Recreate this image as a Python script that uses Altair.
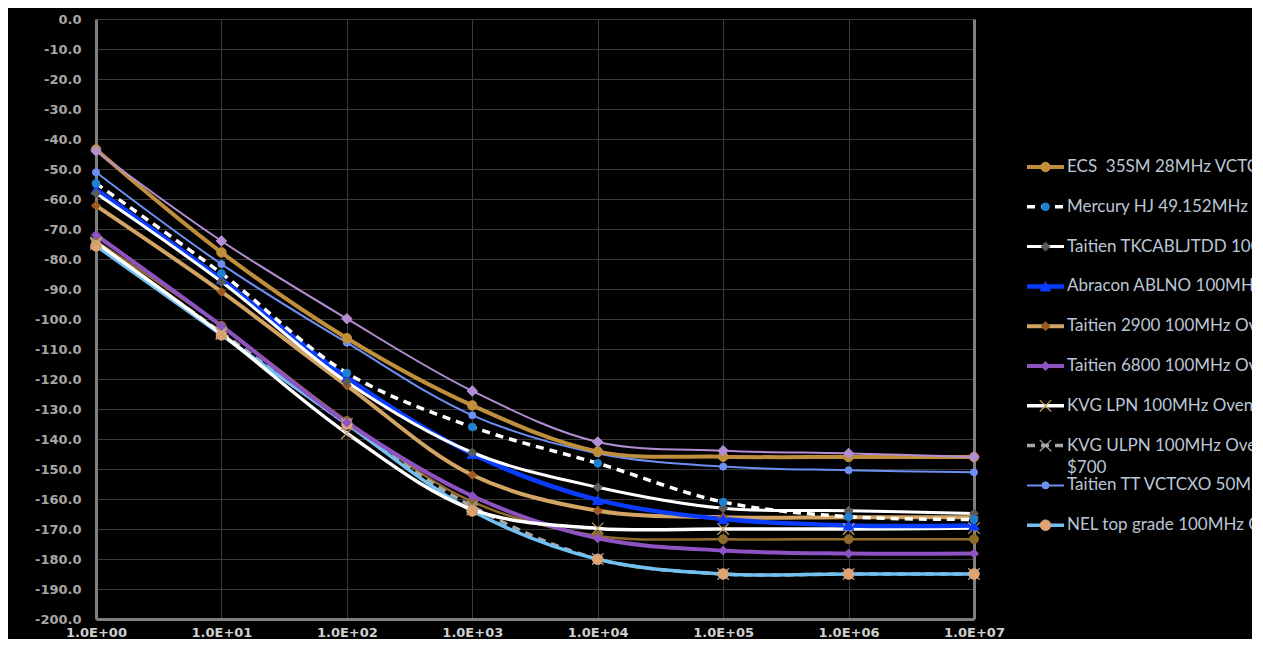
import altair as alt
import pandas as pd

# ---------------- data ----------------
freq = [1, 10, 100, 1e3, 1e4, 1e5, 1e6, 1e7]

ecs = [-43.5, -77.8, -106.4, -128.8, -144.2, -145.9, -146.0, -146.0]
mercury = [-54.8, -84.8, -118.0, -136.0, -148.1, -161.0, -165.9, -166.8]
tkcab = [-58.1, -87.6, -121.0, -144.5, -156.1, -163.1, -163.9, -164.8]
abracon = [-56.8, -86.8, -119.5, -145.0, -160.3, -166.7, -168.8, -168.8]
t2900 = [-62.2, -90.9, -122.2, -152.0, -163.9, -166.1, -166.1, -166.1]
t6800 = [-72.0, -102.3, -134.5, -159.0, -173.1, -177.2, -178.2, -178.2]
kvg_lpn = [-74.5, -105.0, -138.1, -163.5, -169.8, -170.0, -170.0, -169.7]
kvg_ulpn = [-75.0, -104.5, -135.0, -162.5, -180.0, -185.0, -185.0, -185.0]
tt = [-51.1, -81.7, -107.9, -132.1, -144.8, -149.2, -150.4, -151.1]
nel = [-75.6, -105.3, -135.0, -164.0, -180.1, -185.0, -185.0, -185.0]
extra_lav = [-44.0, -74.0, -99.9, -124.0, -141.0, -143.9, -144.8, -146.0]
extra_gold = [-74.0, -102.3, -134.0, -160.9, -172.3, -173.4, -173.4, -173.4]

names = [
    "\u00a0ECS\u00a0 35SM 28MHz VCTCXO",
    "Mercury HJ 49.152MHz XO",
    "Taitien TKCABLJTDD 100MHz",
    "Abracon ABLNO 100MHz XO",
    "Taitien 2900 100MHz Ovenized",
    "Taitien 6800 100MHz Ovenized",
    "KVG LPN 100MHz Ovenized",
    "KVG ULPN 100MHz Ovenized",
    "Taitien TT VCTCXO 50MHz",
    "NEL top grade 100MHz Ovenized",
    "extra_a",
    "extra_b",
]
values = [ecs, mercury, tkcab, abracon, t2900, t6800, kvg_lpn, kvg_ulpn, tt, nel,
          extra_lav, extra_gold]
legend_count = 10
wrap_text = "$700"

X_PATH = "M-1,-1L1,1M-1,1L1,-1"
styles = [
    dict(line="#c08f3c", w=4, dash=None, shape="circle", mc="#c08f3c", ms=90, filled=True),
    dict(line="#ffffff", w=3.5, dash=[8, 6], shape="circle", mc="#1f7fd0", ms=60, filled=True),
    dict(line="#ffffff", w=3, dash=None, shape="diamond", mc="#5a5a5a", ms=80, filled=True),
    dict(line="#0a3cff", w=4.5, dash=None, shape="triangle-up", mc="#0a3cff", ms=110, filled=True),
    dict(line="#d3a565", w=4, dash=None, shape="diamond", mc="#9e5a22", ms=80, filled=True),
    dict(line="#8e52c2", w=4, dash=None, shape="diamond", mc="#8e52c2", ms=80, filled=True),
    dict(line="#ffffff", w=3.5, dash=None, shape=X_PATH, mc="#c4a26a", ms=130, filled=False),
    dict(line="#a6a6a6", w=3.5, dash=[8, 6], shape=X_PATH, mc="#a6a6a6", ms=130, filled=False),
    dict(line="#6d8ff2", w=2, dash=None, shape="circle", mc="#6d8ff2", ms=50, filled=True),
    dict(line="#72c0f0", w=3.5, dash=None, shape="circle", mc="#e0a474", ms=110, filled=True),
    dict(line="#b48ed2", w=2, dash=None, shape="diamond", mc="#b48ed2", ms=110, filled=True),
    dict(line="#8f6b2a", w=2.5, dash=None, shape="circle", mc="#8f6b2a", ms=80, filled=True),
]
draw_order = [11, 7, 9, 5, 6, 4, 3, 2, 1, 8, 0, 10]

# ---------------- main plot ----------------
x_enc = alt.X(
    "f:Q",
    scale=alt.Scale(type="log", domain=[1, 1e7]),
    axis=alt.Axis(
        values=freq, title=None, grid=True, gridColor="#3a3a3a", gridWidth=1,
        ticks=False, domain=True, domainColor="#7f7f7f", domainWidth=3,
        labelExpr="'1.0E+' + (round(log(datum.value)/LN10) < 10 ? '0' : '') + round(log(datum.value)/LN10)",
        labelColor="#d0d0d0", labelFont="DejaVu Sans", labelFontWeight="bold",
        labelFontSize=13, labelPadding=7, labelFlush=False, labelOverlap=False,
    ),
)
y_scale = alt.Scale(domain=[-200, 0], nice=False)
y_enc = alt.Y(
    "v:Q", scale=y_scale,
    axis=alt.Axis(
        values=list(range(-200, 1, 10)), title=None, grid=True, gridColor="#3a3a3a",
        gridWidth=1, ticks=False, domain=True, domainColor="#7f7f7f", domainWidth=3,
        labelExpr="(datum.value < 0 ? '-' : '') + format(abs(datum.value), '.1f')",
        labelColor="#a6a6a6", labelFont="DejaVu Sans", labelFontWeight="bold",
        labelFontSize=13, labelPadding=15, labelOverlap=False,
    ),
)

line_layers = []
point_layers = []
for i in draw_order:
    st = styles[i]
    df = pd.DataFrame({"f": freq, "v": values[i]})
    lkw = dict(interpolate="catmull-rom", color=st["line"], strokeWidth=st["w"])
    if st["dash"]:
        lkw["strokeDash"] = st["dash"]
    line_layers.append(alt.Chart(df).mark_line(**lkw).encode(x=x_enc, y=y_enc))
    pkw = dict(shape=st["shape"], size=st["ms"], opacity=1, filled=st["filled"])
    if st["filled"]:
        pkw.update(fill=st["mc"], stroke=st["mc"], strokeWidth=1)
    else:
        pkw.update(stroke=st["mc"], strokeWidth=1.2)
    point_layers.append(alt.Chart(df).mark_point(**pkw).encode(x=x_enc, y=y_enc))

inner = alt.layer(*line_layers, *point_layers)
right_axis = alt.Chart(pd.DataFrame({"f": freq, "v": values[0]})).mark_point(opacity=0).encode(
    x=x_enc,
    y=alt.Y("v:Q", scale=y_scale,
            axis=alt.Axis(orient="right", labels=False, ticks=False, grid=False, title=None,
                          domainColor="#7f7f7f", domainWidth=3)),
)
main = alt.layer(inner, right_axis).resolve_axis(y="independent").properties(width=878, height=600)

# ---------------- legend panel ----------------
SYM_LEN = 37
TEXT_X = 40
lx_scale = alt.Scale(domain=[0, 225], nice=False, zero=False)
ly_scale = alt.Scale(domain=[-3.718, 11.357], nice=False, zero=False, reverse=True)

leg_layers = []
for i in range(legend_count):
    st = styles[i]
    seg = pd.DataFrame({"lx": [0, SYM_LEN], "ly": [i, i]})
    lkw = dict(color=st["line"], strokeWidth=st["w"])
    if st["dash"]:
        lkw["strokeDash"] = st["dash"]
    leg_layers.append(alt.Chart(seg).mark_line(**lkw).encode(
        x=alt.X("lx:Q", scale=lx_scale, axis=None),
        y=alt.Y("ly:Q", scale=ly_scale, axis=None)))
    mk = pd.DataFrame({"lx": [SYM_LEN / 2], "ly": [i]})
    pkw = dict(shape=st["shape"], size=st["ms"], opacity=1, filled=st["filled"])
    if st["filled"]:
        pkw.update(fill=st["mc"], stroke=st["mc"], strokeWidth=1)
    else:
        pkw.update(stroke=st["mc"], strokeWidth=1.2)
    leg_layers.append(alt.Chart(mk).mark_point(**pkw).encode(
        x=alt.X("lx:Q", scale=lx_scale, axis=None),
        y=alt.Y("ly:Q", scale=ly_scale, axis=None)))

txt = pd.DataFrame({
    "lx": [TEXT_X] * (legend_count + 1),
    "ly": list(range(legend_count)) + [7.56],
    "label": names[:legend_count] + [wrap_text],
})
leg_layers.append(alt.Chart(txt).mark_text(
    align="left", baseline="middle", font="Lato", fontSize=17, color="#bcc6d6", clip=True
).encode(
    x=alt.X("lx:Q", scale=lx_scale, axis=None),
    y=alt.Y("ly:Q", scale=ly_scale, axis=None),
    text="label:N",
))
legend = alt.layer(*leg_layers).properties(width=225, height=600)

chart = alt.hconcat(main, legend, spacing=53, bounds="flush").properties(
    background="black",
    padding={"left": 26, "top": 5, "right": 0, "bottom": 0},
).configure_view(stroke=None)

chart.save("out.html", embed_options={"renderer": "svg", "actions": False})
